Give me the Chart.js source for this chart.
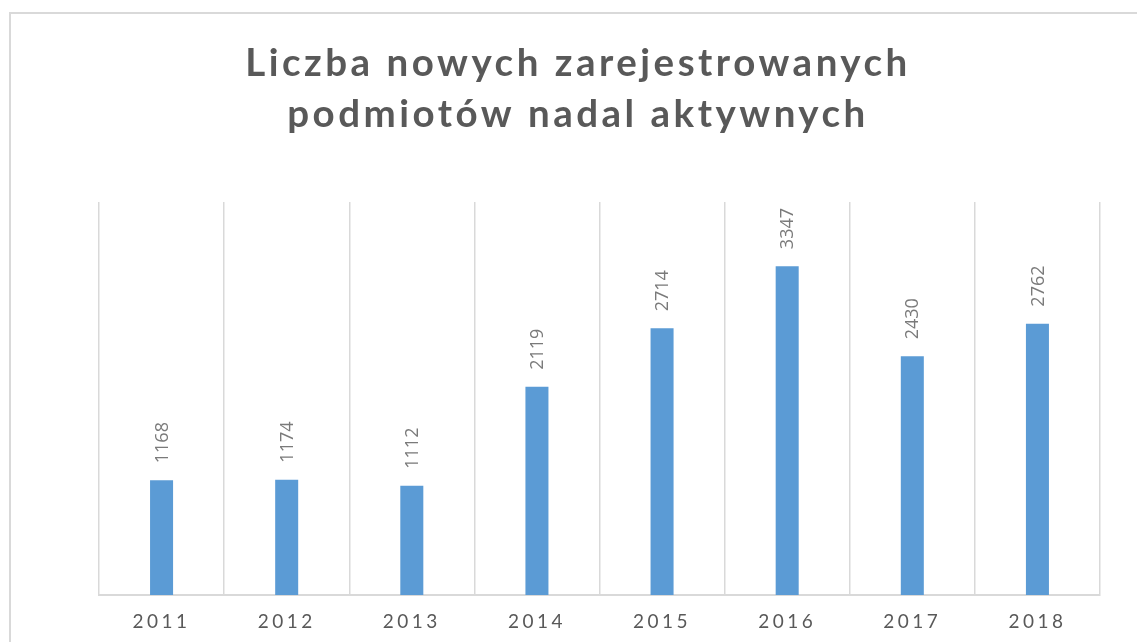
<!DOCTYPE html>
<html>
<head>
<meta charset="utf-8">
<script src="https://cdn.jsdelivr.net/npm/chart.js@4"></script>
<style>
  html, body { margin: 0; padding: 0; background: #fff; overflow: hidden; }
  #frame {
    position: absolute; left: 9px; top: 12px; width: 1200px; height: 700px;
    border-left: 2px solid #d9d9d9; border-top: 2px solid #d9d9d9;
  }
  #chart { position: absolute; left: 0; top: 0; }
</style>
</head>
<body>
<div id="frame"></div>
<canvas id="chart" width="1147" height="660"></canvas>
<script>
const years = ['2011', '2012', '2013', '2014', '2015', '2016', '2017', '2018'];
const activeCounts = [1168, 1174, 1112, 2119, 2714, 3347, 2430, 2762];
const chartTitle = ['Liczba nowych zarejestrowanych', 'podmiotów nadal aktywnych'];

// Excel-like letter spacing for title and axis labels
const spacingPlugin = {
    id: 'spacing',
    beforeDraw(chart) {
        chart.ctx.letterSpacing = '3.5px';
    },
    afterDraw(chart) {
        chart.ctx.letterSpacing = '0px';
    }
};

// value labels written upwards above each bar
const barLabels = {
    id: 'barLabels',
    afterDatasetsDraw(chart) {
        let ctx = chart.ctx;
        let meta = chart.getDatasetMeta(0);
        ctx.save();
        ctx.letterSpacing = '0px';
        ctx.font = '18px "Open Sans"';
        ctx.fillStyle = '#7a7a7a';
        ctx.textAlign = 'left';
        ctx.textBaseline = 'middle';
        meta.data.forEach((bar, i) => {
            ctx.save();
            ctx.translate(bar.x + 1, bar.y - 17);
            ctx.rotate(-Math.PI / 2);
            ctx.fillText(String(activeCounts[i]), 0, 0);
            ctx.restore();
        });
        ctx.restore();
    }
};

new Chart(document.getElementById('chart'), {
    type: 'bar',
    data: {
        labels: years,
        datasets: [{
            data: activeCounts,
            backgroundColor: '#5b9bd5',
            categoryPercentage: 1,
            barPercentage: 0.184
        }]
    },
    options: {
        responsive: false,
        animation: false,
        layout: { padding: { left: 9, right: 0, top: 0, bottom: 0 } },
        plugins: {
            legend: { display: false },
            tooltip: { enabled: false },
            title: {
                display: true,
                text: chartTitle,
                color: '#595959',
                font: { family: 'Lato', size: 38.5, weight: 'bold', lineHeight: 51 / 38.5 },
                padding: { top: 38, bottom: 62 }
            }
        },
        scales: {
            x: {
                grid: { color: '#d9d9d9', lineWidth: 1.5, drawTicks: false },
                border: { color: '#d9d9d9', width: 2 },
                ticks: {
                    color: '#595959',
                    font: { family: 'Lato', size: 19 },
                    padding: 15
                },
                afterFit(scale) { scale.height = 65; }
            },
            y: {
                min: 0,
                max: 4000,
                grid: { display: false },
                border: { display: false },
                ticks: { display: false },
                afterFit(scale) { scale.width = 90; }
            },
            yRight: {
                position: 'right',
                min: 0,
                max: 4000,
                grid: { display: false },
                border: { display: false },
                ticks: { display: false },
                afterFit(scale) { scale.width = 47; }
            }
        }
    },
    plugins: [spacingPlugin, barLabels]
});
</script>
</body>
</html>
